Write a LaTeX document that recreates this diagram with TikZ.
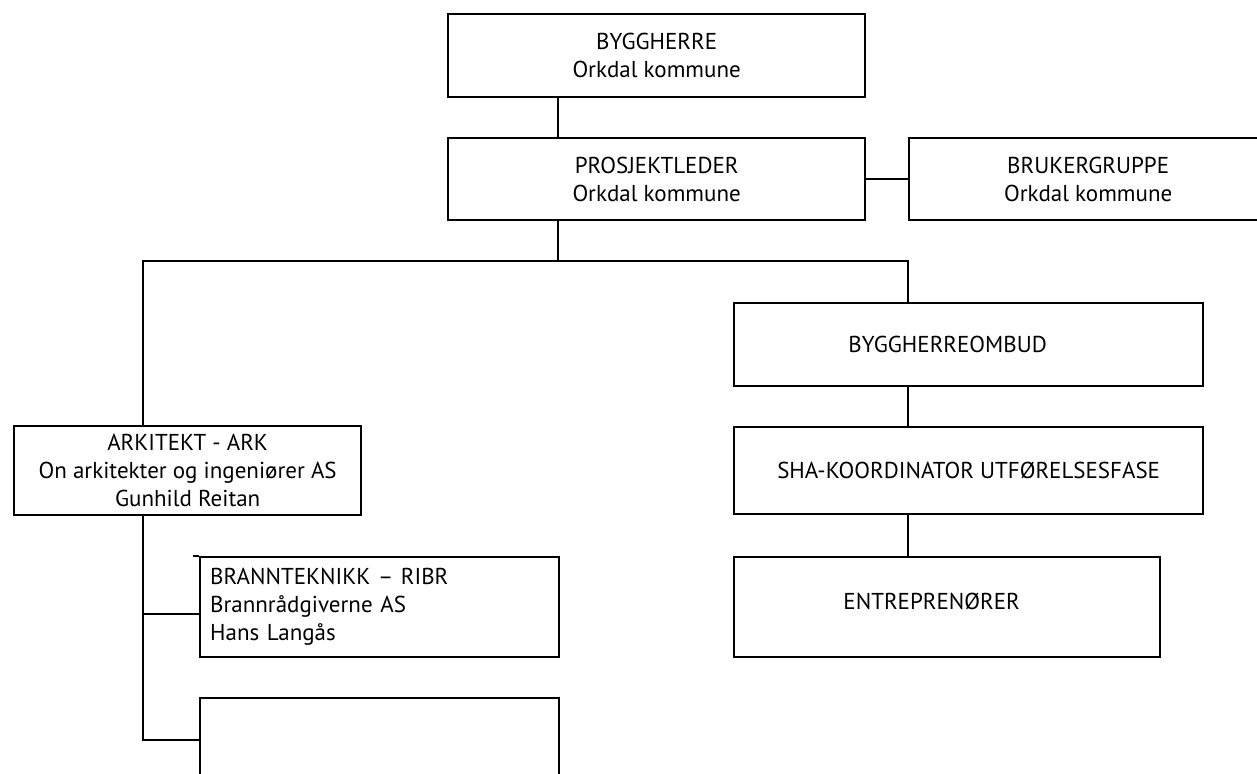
\documentclass[tikz,border=0pt]{standalone}
\usepackage{fontspec}
\setmainfont{PT Sans}
\usetikzlibrary{positioning}

\begin{document}
\begin{tikzpicture}[x=1pt, y=-1pt,
		every node/.style={font=\fontsize{23}{28}\selectfont, inner sep=0pt},
		box/.style={draw, line width=2.3pt, anchor=north west, align=center},
		link/.style={line width=2.3pt},
		thinlink/.style={line width=1.2pt}]
	\useasboundingbox (0,0) rectangle (1257,773);

	% top of the chart
	\node[box, minimum width=417, minimum height=83] (byggherre) at (447,13) {BYGGHERRE\\Orkdal kommune};
	\node[box, minimum width=417, minimum height=82] (prosjektleder) at (447,137) {PROSJEKTLEDER\\Orkdal kommune};
	\node[box, minimum width=358, minimum height=82] (brukergruppe) at (908,137) {BRUKERGRUPPE\\Orkdal kommune};

	% right branch
	\node[box, minimum width=469, minimum height=83] (ombud) at (733,302) {};
	\node (ombudtext) at ([xshift=-21pt]ombud.center) {BYGGHERREOMBUD};
	\node[box, minimum width=469, minimum height=87] (sha) at (733,426) {SHA-KOORDINATOR UTFØRELSESFASE};
	\node[box, minimum width=426, minimum height=100] (entrepr) at (733,556) {};
	\node (entreprtext) at ([xshift=-15.5pt, yshift=6pt]entrepr.center) {ENTREPRENØRER};

	% left branch
	\node[box, minimum width=347, minimum height=89] (arkitekt) at (13,425) {ARKITEKT - ARK\\On arkitekter og ingeniører AS\\Gunhild Reitan};
	\node[box, align=left, text width=339, inner xsep=10pt, minimum height=100] (brann) at (199,556) {BRANNTEKNIKK – RIBR\\Brannrådgiverne AS\\Hans Langås};
	\node[box, minimum width=359, minimum height=84] (tom) at (199,697) {};

	\coordinate (stem) at (558,261);
	\coordinate (leftbus) at (143,261);
	\coordinate (rightbus) at (908,261);
	\coordinate (brannjoint) at (143,614);

	\draw[thinlink] (stem |- byggherre.south) -- (stem |- prosjektleder.north);
	\draw[thinlink] (stem |- prosjektleder.south) -- (stem);
	\draw[link] (prosjektleder.east) -- (brukergruppe.west);

	\draw[link] (leftbus |- arkitekt.north) -- (leftbus) -- (rightbus) -- (rightbus |- ombud.north);
	\draw[link] (rightbus |- ombud.south) -- (rightbus |- sha.north);
	\draw[link] (rightbus |- sha.south) -- (rightbus |- entrepr.north);

	\draw[link] (leftbus |- arkitekt.south) -- (leftbus |- tom.west) -- (tom.west);
	\draw[link] (brannjoint) -- (brannjoint -| brann.west);
	\draw[link] (brann.north west) -- ++(-6,0);
\end{tikzpicture}
\end{document}
